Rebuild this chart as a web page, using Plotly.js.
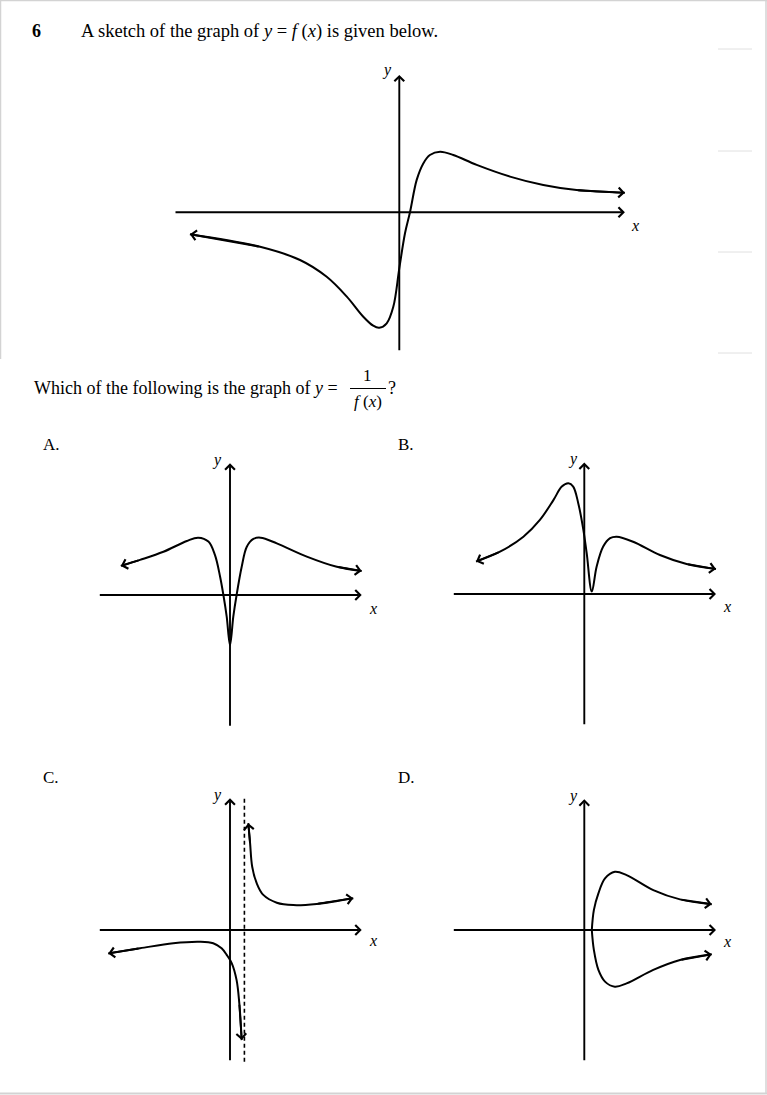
<!DOCTYPE html>
<html><head><meta charset="utf-8">
<script src="https://cdn.plot.ly/plotly-3.0.1.min.js"></script>
<style>html,body{margin:0;padding:0;background:#fff;}#chart{width:767px;height:1095px;}</style>
</head><body><div id="chart"></div>
<script>
// ---------- data (sketch units) ----------
// y = f(x)
const fX = [-6.98,-4.64,-3.31,-2.42,-1.75,-1.20,-0.87,-0.67,-0.42,-0.20,0.00,0.19,0.36,0.58,0.80,1.02,1.36,1.80,2.58,3.69,4.80,5.91,7.52];
const fY = [-0.73,-1.15,-1.59,-2.15,-2.81,-3.48,-3.78,-3.85,-3.70,-3.15,-1.87,-0.70,0.02,1.08,1.63,1.91,2.02,1.91,1.58,1.19,0.91,0.74,0.65];
// Option A
const aX = [-3.64,-3.00,-2.22,-1.44,-1.06,-0.72,-0.50,-0.33,-0.22,-0.11,0.00,0.11,0.22,0.39,0.56,0.78,1.02,1.56,2.56,3.56,4.39];
const aY = [0.97,1.17,1.44,1.80,1.91,1.78,1.33,0.61,0.00,-0.72,-1.67,-0.72,0.00,0.94,1.61,1.87,1.91,1.72,1.28,0.94,0.80];
// Option B
const bX = [-3.61,-2.81,-2.03,-1.48,-1.03,-0.75,-0.53,-0.37,-0.20,-0.03,0.08,0.25,0.41,0.63,0.86,1.08,1.63,2.52,3.41,4.39];
const bY = [1.08,1.41,1.91,2.47,3.13,3.58,3.69,3.58,3.02,2.13,1.36,0.08,0.91,1.58,1.86,1.91,1.74,1.30,1.00,0.83];
// Option C
const cLeftX = [-4.06,-3.00,-1.89,-1.00,-0.56,-0.28,-0.11,0.06,0.22,0.31,0.39];
const cLeftY = [-0.78,-0.61,-0.44,-0.39,-0.44,-0.61,-0.83,-1.11,-1.67,-2.44,-3.67];
const cRightX = [0.61,0.67,0.74,0.89,1.11,1.56,2.11,2.89,4.11];
const cRightY = [3.56,2.89,2.11,1.56,1.17,0.91,0.83,0.87,1.06];
const cAsymptoteX = 0.48;
// Option D
const dUpperX = [0.25,0.32,0.47,0.69,1.02,1.41,2.30,3.19,4.25];
const dUpperY = [0.00,0.67,1.22,1.72,1.94,1.83,1.33,1.02,0.86];
const dLowerX = [0.25,0.32,0.47,0.69,1.02,1.41,2.30,3.19,4.25];
const dLowerY = [0.00,-0.67,-1.33,-1.72,-1.89,-1.78,-1.33,-1.00,-0.81];

// ---------- layout helpers ----------
const W = 767, H = 1095, S = 30; // px per sketch unit
const SERIF = '"Liberation Serif","Times New Roman",serif';
const panels = [
  {k:'', ox:399.3, oy:212.3, xr:[-7.51,7.52], yr:[-4.65,4.58], ylab:[386.7,70], xlab:[635,226]},
  {k:'2', ox:230, oy:595, xr:[-4.39,4.39], yr:[-4.41,4.39], ylab:[216.7,460], xlab:[373.3,608.3]},
  {k:'3', ox:584.3, oy:594, xr:[-4.40,4.39], yr:[-4.39,4.38], ylab:[572.7,459.3], xlab:[726.7,606.7]},
  {k:'4', ox:230, oy:930, xr:[-4.39,4.39], yr:[-4.39,4.39], ylab:[216.7,795], xlab:[372.7,940.7]},
  {k:'5', ox:584.3, oy:930, xr:[-4.40,4.39], yr:[-4.39,4.36], ylab:[572.7,796], xlab:[726.7,941.7]}
];
const curves = [
  [0, fX, fY, [true,true]],
  [1, aX, aY, [true,true]],
  [2, bX, bY, [true,true]],
  [3, cLeftX, cLeftY, [true,true]],
  [3, cRightX, cRightY, [true,true]],
  [4, dUpperX, dUpperY, [false,true]],
  [4, dLowerX, dLowerY, [false,true]]
];
const layout = {
  width: W, height: H, margin:{l:0,r:0,t:0,b:0},
  paper_bgcolor:'#fff', plot_bgcolor:'rgba(0,0,0,0)', showlegend:false,
  annotations:[], shapes:[]
};
const traces = [];
const px = (x,y)=>({x:x/W, y:1-y/H});
function txt(t, x, y, size, opts){
  const p = px(x,y);
  layout.annotations.push(Object.assign({xref:'paper', yref:'paper', x:p.x, y:p.y, text:t, showarrow:false,
    xanchor:'left', yanchor:'middle', font:{family:SERIF, size:size, color:'#000'}}, opts||{}));
}
function arrow(xr, yr, hx, hy, tx, ty){
  layout.annotations.push({xref:xr, yref:yr, axref:xr, ayref:yr, x:hx, y:hy, ax:tx, ay:ty, text:'', showarrow:true,
    arrowhead:4, arrowsize:1, arrowwidth:1.9, arrowcolor:'#000', standoff:0});
}
panels.forEach(p=>{
  const xa = 'xaxis'+p.k, ya = 'yaxis'+p.k;
  const ax = {domain:[0,1], range:[(0-p.ox)/S,(W-p.ox)/S], visible:false, fixedrange:true};
  const ay = {domain:[0,1], range:[(p.oy-H)/S, p.oy/S], visible:false, fixedrange:true};
  if(p.k){ ax.anchor='y'+p.k; ay.anchor='x'+p.k; }
  layout[xa]=ax; layout[ya]=ay;
  const xr='x'+p.k, yr='y'+p.k;
  arrow(xr, yr, p.xr[1], 0, p.xr[0], 0);
  arrow(xr, yr, 0, p.yr[1], 0, p.yr[0]);
  txt('<i>y</i>', p.ylab[0], p.ylab[1], 16, {xanchor:'center'});
  txt('<i>x</i>', p.xlab[0], p.xlab[1], 16, {xanchor:'center'});
});
curves.forEach(c=>{
  const p = panels[c[0]], xr='x'+p.k, yr='y'+p.k, X=c[1], Y=c[2];
  traces.push({x:X, y:Y, xaxis:xr, yaxis:yr, mode:'lines', line:{color:'#000', width:2, shape:'spline', smoothing:1}, hoverinfo:'skip'});
  const ends = c[3], n = X.length;
  if(ends[0]) arrow(xr, yr, X[0], Y[0], X[1], Y[1]);
  if(ends[1]) arrow(xr, yr, X[n-1], Y[n-1], X[n-2], Y[n-2]);
});
// asymptote in C
traces.push({x:[cAsymptoteX,cAsymptoteX], y:[panels[3].yr[0], 4.44], xaxis:'x4', yaxis:'y4', mode:'lines', line:{color:'#000', width:1.6, dash:'4px,3px'}, hoverinfo:'skip'});

// ---------- text ----------
txt('<b>6</b>', 30, 31, 18);
txt('A sketch of the graph of <i>y</i> = <i>f</i> (<i>x</i>) is given below.', 79, 31, 18.5);
txt('Which of the following is the graph of <i>y</i> = ', 32, 388, 18);
txt('1', 367.5, 375.5, 17, {xanchor:'center'});
txt('<i>f</i> (<i>x</i>)', 367.5, 401.5, 17, {xanchor:'center'});
txt('?', 385.5, 388, 18);
txt('A.', 41, 445, 17);
txt('B.', 396, 445, 17);
txt('C.', 41, 777, 17);
txt('D.', 396, 777, 17);
// fraction bar
const f1=px(350,388.5), f2=px(386,388.5);
layout.shapes.push({type:'line', xref:'paper', yref:'paper', x0:f1.x, y0:f1.y, x1:f2.x, y1:f2.y, line:{color:'#000', width:1}});
// page border and margin marks
const G='#d3d3d3';
function pl(x0,y0,x1,y1,col,w){const a=px(x0,y0), b=px(x1,y1); layout.shapes.push({type:'line', xref:'paper', yref:'paper', x0:a.x, y0:a.y, x1:b.x, y1:b.y, line:{color:col, width:w}});}
pl(0,0.5,767,0.5,G,1.5); pl(0.5,0,0.5,359,G,1.5); pl(766,0,766,1094,G,1.5); pl(0,1093.5,767,1093.5,G,2);
[49,151,252,353].forEach(y=>pl(718,y,752,y,'#e0e0e0',1));

Plotly.newPlot('chart', traces, layout, {staticPlot:true, displayModeBar:false});
</script></body></html>
